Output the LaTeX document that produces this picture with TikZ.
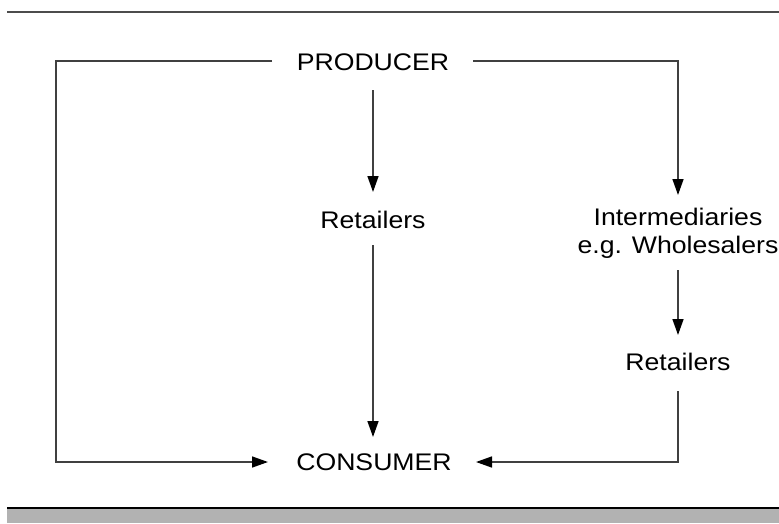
\documentclass[tikz,border=0pt]{standalone}
\usepackage{fontspec}
\setmainfont{Liberation Sans}[FakeStretch=1.11]
\usetikzlibrary{arrows.meta}
\begin{document}
\begin{tikzpicture}[x=1pt,y=-1pt,
  lbl/.style={inner sep=0pt,anchor=base,font=\fontsize{24}{28}\selectfont,text=black},
  conn/.style={draw=black!75,line width=1.5pt},
  arr/.style={conn,-{Triangle[length=16pt,width=11pt,color=black]}}]
\useasboundingbox (0,0) rectangle (779,523);
% frame rules
\coordinate (tl) at (7,12);
\coordinate (tr) at (779,12);
\draw[draw=black!70,line width=1.5pt] (tl) -- (tr);
\fill[black!30] (7,509) rectangle (779,523);
\coordinate (bl) at (7,508);
\coordinate (br) at (779,508);
\draw[black,line width=1.2pt] (bl) -- (br);
% nodes
\node[lbl] (prod) at (373,70) {PRODUCER};
\node[lbl] (ret1) at (373,228) {Retailers};
\node[lbl,align=center] (inter) at (678,253) {Intermediaries\\e.g. Wholesalers};
\node[lbl] (ret2) at (678,370) {Retailers};
\node[lbl] (cons) at (374,470) {CONSUMER};
% helper coordinates
\coordinate (pl) at (272,61);
\coordinate (pr) at (473,61);
\coordinate (lc1) at (56,61);
\coordinate (lc2) at (56,462);
\coordinate (cl) at (268,462);
\coordinate (rc1) at (678,61);
\coordinate (rtip) at (678,195);
\coordinate (p1) at (373,90);
\coordinate (r1tip) at (373,192);
\coordinate (r1s) at (373,245);
\coordinate (ctip) at (373,437);
\coordinate (is) at (678,270);
\coordinate (itip) at (678,335);
\coordinate (r2s) at (678,391);
\coordinate (rc2) at (678,462);
\coordinate (cr) at (476,462);
% connectors
\draw[arr] (pl) -- (lc1) -- (lc2) -- (cl);
\draw[arr] (pr) -- (rc1) -- (rtip);
\draw[arr] (p1) -- (r1tip);
\draw[arr] (r1s) -- (ctip);
\draw[arr] (is) -- (itip);
\draw[arr] (r2s) -- (rc2) -- (cr);
\end{tikzpicture}
\end{document}
